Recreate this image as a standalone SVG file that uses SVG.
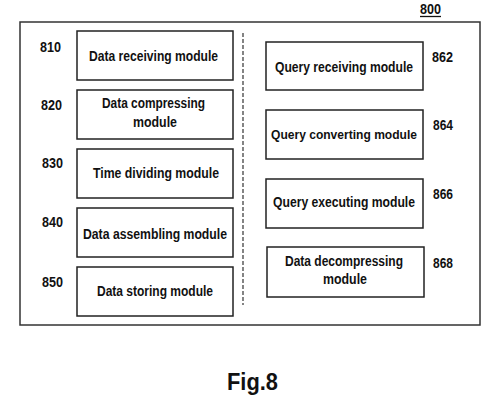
<svg xmlns="http://www.w3.org/2000/svg" width="490" height="400" viewBox="0 0 490 400">
<style>
.box{fill:#fff;stroke:#222;stroke-width:1.5}
.t{font-family:"Liberation Sans",Arial,sans-serif;font-weight:bold;font-size:14px;fill:#111}
.lbl{font-family:"Liberation Sans",Arial,sans-serif;font-weight:bold;font-size:14px;fill:#111}
</style>
<rect width="490" height="400" fill="#fff"/>
<g id="container">
<rect x="20" y="22" width="460" height="303" fill="none" stroke="#333" stroke-width="1.5"/>
<text class="lbl" x="420" y="14" textLength="21" lengthAdjust="spacingAndGlyphs">800</text>
<line x1="420" y1="16.5" x2="441" y2="16.5" stroke="#111" stroke-width="1.3"/>
</g>
<g id="connectors">
<line x1="243" y1="33" x2="243" y2="305" stroke="#333" stroke-width="1.2" stroke-dasharray="4 2"/>
</g>
<g id="n810">
<rect class="box" x="77" y="31" width="156" height="49"/>
<text class="t" x="89" y="61" textLength="129" lengthAdjust="spacingAndGlyphs">Data receiving module</text>
<text class="lbl" x="40" y="52" textLength="21" lengthAdjust="spacingAndGlyphs">810</text>
</g>
<g id="n820">
<rect class="box" x="77" y="90" width="156" height="49"/>
<text class="t" x="102" y="108" textLength="103" lengthAdjust="spacingAndGlyphs">Data compressing</text>
<text class="t" x="133" y="127" textLength="44" lengthAdjust="spacingAndGlyphs">module</text>
<text class="lbl" x="41" y="110" textLength="21" lengthAdjust="spacingAndGlyphs">820</text>
</g>
<g id="n830">
<rect class="box" x="77" y="149" width="156" height="49"/>
<text class="t" x="93" y="178" textLength="126" lengthAdjust="spacingAndGlyphs">Time dividing module</text>
<text class="lbl" x="42" y="168" textLength="21" lengthAdjust="spacingAndGlyphs">830</text>
</g>
<g id="n840">
<rect class="box" x="77" y="208" width="156" height="49"/>
<text class="t" x="83" y="239" textLength="144" lengthAdjust="spacingAndGlyphs">Data assembling module</text>
<text class="lbl" x="42" y="227" textLength="21" lengthAdjust="spacingAndGlyphs">840</text>
</g>
<g id="n850">
<rect class="box" x="77" y="267" width="156" height="49"/>
<text class="t" x="97" y="296" textLength="116" lengthAdjust="spacingAndGlyphs">Data storing module</text>
<text class="lbl" x="42" y="287" textLength="21" lengthAdjust="spacingAndGlyphs">850</text>
</g>
<g id="n862">
<rect class="box" x="266" y="42" width="157" height="48"/>
<text class="t" x="275" y="72" textLength="138" lengthAdjust="spacingAndGlyphs">Query receiving module</text>
<text class="lbl" x="432" y="62" textLength="21" lengthAdjust="spacingAndGlyphs">862</text>
</g>
<g id="n864">
<rect class="box" x="266" y="110" width="157" height="49"/>
<text class="t" x="271" y="139" font-size="13" style="font-size:13.5px" textLength="146" lengthAdjust="spacingAndGlyphs">Query converting module</text>
<text class="lbl" x="433" y="130" textLength="20" lengthAdjust="spacingAndGlyphs">864</text>
</g>
<g id="n866">
<rect class="box" x="266" y="179" width="157" height="49"/>
<text class="t" x="273" y="207" textLength="142" lengthAdjust="spacingAndGlyphs">Query executing module</text>
<text class="lbl" x="433" y="199" textLength="20" lengthAdjust="spacingAndGlyphs">866</text>
</g>
<g id="n868">
<rect class="box" x="267" y="247" width="157" height="50"/>
<text class="t" x="285" y="266" textLength="118" lengthAdjust="spacingAndGlyphs">Data decompressing</text>
<text class="t" x="323" y="284" textLength="44" lengthAdjust="spacingAndGlyphs">module</text>
<text class="lbl" x="433" y="268" textLength="20" lengthAdjust="spacingAndGlyphs">868</text>
</g>
<text x="227" y="390" font-family="Liberation Sans,Arial,sans-serif" font-weight="bold" font-size="23" fill="#111" textLength="51" lengthAdjust="spacingAndGlyphs">Fig.8</text>
</svg>
